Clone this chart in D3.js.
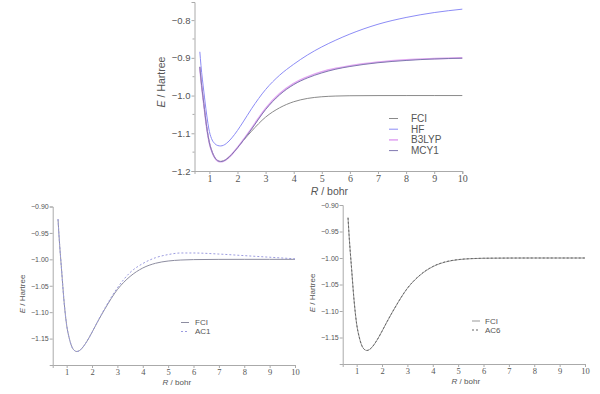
<!DOCTYPE html>
<html>
<head>
<meta charset="utf-8">
<script src="https://cdn.jsdelivr.net/npm/d3@7"></script>
<style>
  body { margin: 0; background: #fff; }
  svg { display: block; }
  text { fill: #555; font-family: "Liberation Sans", Arial, sans-serif; }
  .xtick text { font-family: "Liberation Serif", "DejaVu Serif", serif; }
</style>
</head>
<body>
<svg width="600" height="394"></svg>
<script>
// bond length R / bohr
const R = [0.66, 0.7, 0.8, 0.9, 1.0, 1.1, 1.2, 1.3, 1.4, 1.5, 1.6, 1.8, 2.0, 2.2, 2.5,
           3.0, 3.5, 4.0, 4.5, 5.0, 5.5, 6.0, 7.0, 8.0, 9.0, 10.0];

// energies / Hartree
const fci   = [-0.924, -0.956, -1.020, -1.081, -1.1245, -1.149, -1.1649, -1.1723, -1.1745, -1.1729, -1.1686, -1.1551, -1.1381, -1.1200, -1.0945,
               -1.0572, -1.0324, -1.0164, -1.0075, -1.0032, -1.0013, -1.0005, -1.0001, -1.0000, -1.0000, -1.0000];
const hf    = [-0.884, -0.920, -0.988, -1.049, -1.0955, -1.118, -1.1280, -1.1325, -1.1336, -1.1318, -1.1272, -1.1122, -1.0925, -1.0700, -1.0350,
               -0.984, -0.946, -0.917, -0.892, -0.871, -0.853, -0.837, -0.811, -0.793, -0.780, -0.771];
const b3lyp = [-0.925, -0.957, -1.022, -1.083, -1.1265, -1.151, -1.166, -1.1735, -1.1755, -1.174, -1.170, -1.156, -1.138, -1.118, -1.087,
               -1.034, -0.995, -0.968, -0.950, -0.937, -0.928, -0.921, -0.911, -0.905, -0.902, -0.900];
const mcy1  = [-0.924, -0.956, -1.021, -1.082, -1.1255, -1.150, -1.1655, -1.173, -1.175, -1.1735, -1.1695, -1.1558, -1.1385, -1.1195, -1.089,
               -1.037, -0.998, -0.971, -0.953, -0.940, -0.930, -0.923, -0.913, -0.907, -0.903, -0.901];
const ac1   = [-0.924, -0.956, -1.020, -1.081, -1.1245, -1.149, -1.1649, -1.1723, -1.1745, -1.1729, -1.1686, -1.1551, -1.1381, -1.1195, -1.093,
               -1.054, -1.025, -1.008, -0.997, -0.991, -0.988, -0.988, -0.990, -0.993, -0.996, -0.999];
const ac6   = [-0.924, -0.956, -1.020, -1.081, -1.1245, -1.149, -1.1649, -1.1723, -1.1745, -1.1729, -1.1686, -1.1551, -1.1381, -1.1200, -1.0945,
               -1.0570, -1.0320, -1.0160, -1.0072, -1.0030, -1.0012, -1.0005, -1.0001, -1.0000, -1.0000, -1.0000];

const xTicks = [1, 2, 3, 4, 5, 6, 7, 8, 9, 10];
const yTicksTop = [-0.8, -0.9, -1.0, -1.1, -1.2];
const yTicksBottom = [-0.90, -0.95, -1.00, -1.05, -1.10, -1.15];

const svg = d3.select('svg');
svg.append('rect').attr('width', 600).attr('height', 394).attr('fill', '#fff');

const minus = s => s.replace('-', '\u2212');

const drawPanel = p => {
  const x = d3.scaleLinear().domain([p.xMin, 10]).range([p.left, p.right]);
  const y = d3.scaleLinear().domain(p.yDomain).range([p.bottom, p.top]);
  const g = svg.append('g');

  // axes
  const xAxis = d3.axisBottom(x).tickValues(xTicks).tickSize(3).tickPadding(1)
    .tickFormat(d3.format('d'));
  const yAxis = d3.axisLeft(y).tickValues(p.yTicks).tickSize(3).tickPadding(1)
    .tickFormat(d => minus(d3.format(p.yFmt)(d)));

  const xAxisG = g.append('g').attr('class', 'xtick')
    .attr('transform', `translate(0,${p.bottom})`).call(xAxis);
  const yAxisG = g.append('g')
    .attr('transform', `translate(${p.left},0)`).call(yAxis);

  [xAxisG, yAxisG].forEach(a => {
    a.select('.domain').attr('stroke', '#aaa');
    a.selectAll('.tick line').attr('stroke', '#aaa');
    a.selectAll('.tick text').attr('fill', '#666');
  });
  xAxisG.selectAll('.tick text').attr('font-size', p.xfs);
  yAxisG.selectAll('.tick text').attr('font-size', p.yfs);

  if (p.yMinor) {
    g.append('g').selectAll('line').data(p.yMinor).enter().append('line')
      .attr('x1', p.left - 2).attr('x2', p.left)
      .attr('y1', d => y(d)).attr('y2', d => y(d))
      .attr('stroke', '#aaa');
  }

  // axis labels
  const xl = g.append('text')
    .attr('x', (p.left + p.right) / 2 + p.xLabelDx).attr('y', p.xLabelY)
    .attr('text-anchor', 'middle').attr('font-size', p.fs);
  xl.append('tspan').attr('font-style', 'italic').text('R');
  xl.append('tspan').text(' / bohr');

  const yl = g.append('text')
    .attr('transform', `translate(${p.yLabelX},${p.yLabelY}) rotate(-90)`)
    .attr('text-anchor', 'middle').attr('font-size', p.fs);
  yl.append('tspan').attr('font-style', 'italic').text('E');
  yl.append('tspan').text(' / Hartree');

  // curves
  const line = d3.line()
    .x((d, i) => x(R[i]))
    .y(d => y(d))
    .curve(d3.curveMonotoneX);

  p.series.forEach(s => {
    g.append('path')
      .attr('d', line(s.values))
      .attr('fill', 'none')
      .attr('stroke', s.color)
      .attr('stroke-width', s.width || 1)
      .attr('stroke-dasharray', s.dash || null);
  });

  // legend
  const leg = g.append('g');
  p.series.forEach((s, i) => {
    const ly = p.legY + i * p.legStep;
    leg.append('line')
      .attr('x1', p.legX).attr('x2', p.legX + p.legLen)
      .attr('y1', ly).attr('y2', ly)
      .attr('stroke', s.color).attr('stroke-width', s.legWidth || 1)
      .attr('stroke-dasharray', s.dash || null);
    leg.append('text')
      .attr('x', p.legX + p.legLen + p.legGap).attr('y', ly)
      .attr('dy', '0.35em').attr('font-size', p.lfs)
      .text(s.name);
  });
};

// top panel
drawPanel({
  xMin: 0.47, left: 194.5, right: 462.3,
  yDomain: [-1.2, -0.752], top: 2, bottom: 171,
  yTicks: yTicksTop, yFmt: '.1f', yMinor: [-0.85, -0.95, -1.05, -1.15],
  fs: 10.5, xfs: 10, yfs: 9.5, lfs: 10,
  xLabelY: 195, xLabelDx: 1, yLabelX: 165, yLabelY: 82,
  legX: 389, legY: 118.5, legStep: 10.7, legLen: 9, legGap: 13,
  series: [
    { name: 'FCI', values: fci, color: '#8a8a8a' },
    { name: 'HF', values: hf, color: '#8c8cf6' },
    { name: 'B3LYP', values: b3lyp, color: '#e2a8f2', width: 1.6, legWidth: 1.6 },
    { name: 'MCY1', values: mcy1, color: '#8078b0' }
  ]
});

// bottom left panel
drawPanel({
  xMin: 0.45, left: 52.7, right: 295,
  yDomain: [-1.2, -0.9], top: 206.5, bottom: 365,
  yTicks: yTicksBottom, yFmt: '.2f',
  fs: 8, xfs: 8.5, yfs: 7, lfs: 8,
  xLabelY: 385, xLabelDx: 3, yLabelX: 25, yLabelY: 294,
  legX: 181, legY: 322.5, legStep: 9, legLen: 8, legGap: 6,
  series: [
    { name: 'FCI', values: fci, color: '#8d8da0' },
    { name: 'AC1', values: ac1, color: '#9c9ce0', dash: '2,2' }
  ]
});

// bottom right panel
drawPanel({
  xMin: 0.45, left: 342.7, right: 585,
  yDomain: [-1.2, -0.9], top: 205, bottom: 364,
  yTicks: yTicksBottom, yFmt: '.2f',
  fs: 8, xfs: 8.5, yfs: 7, lfs: 8,
  xLabelY: 384, xLabelDx: 2, yLabelX: 315, yLabelY: 293,
  legX: 472, legY: 321, legStep: 9, legLen: 8, legGap: 5,
  series: [
    { name: 'FCI', values: fci, color: '#999' },
    { name: 'AC6', values: ac6, color: '#666', dash: '2,2' }
  ]
});
</script>
</body>
</html>
